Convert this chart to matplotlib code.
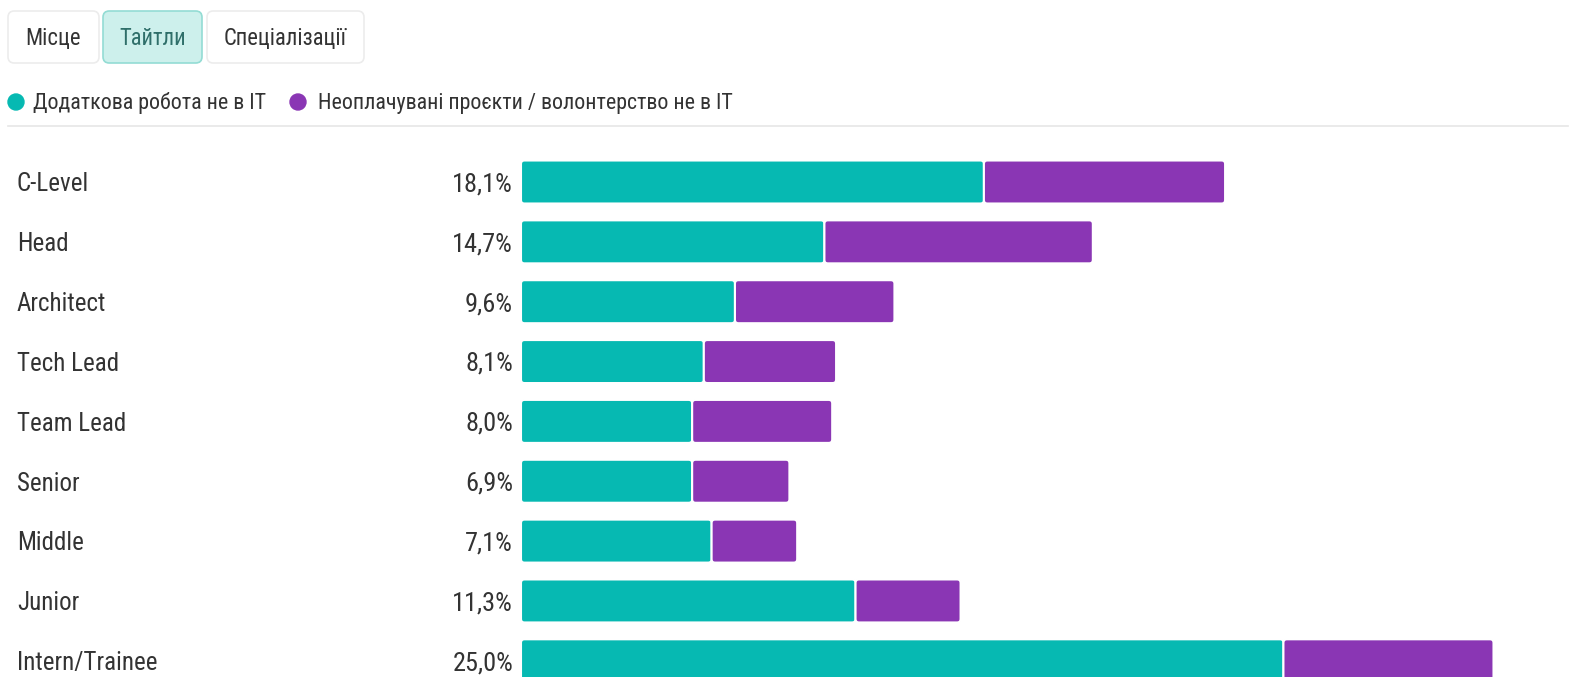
import matplotlib.pyplot as plt
from matplotlib.patches import FancyBboxPatch, Ellipse
from matplotlib.transforms import blended_transform_factory
from matplotlib import font_manager

# Data: share of respondents with side activities outside IT, by title (%)
titles = ["C-Level", "Head", "Architect", "Tech Lead", "Team Lead",
          "Senior", "Middle", "Junior", "Intern/Trainee"]
extra_job = [11.9, 7.8, 5.5, 4.7, 4.4, 4.4, 4.9, 8.6, 19.6]
volunteer = [6.2, 6.9, 4.1, 3.4, 3.6, 2.5, 2.2, 2.7, 5.4]

series_names = ["Додаткова робота не в IT",
                "Неоплачувані проєкти / волонтерство не в IT"]
tabs = ["Місце", "Тайтли", "Спеціалізації"]
active_tab = 1

TEAL = "#06b9b2"
PURPLE = "#8a36b4"
TEXT = "#333333"

names = {f.name for f in font_manager.fontManager.ttflist}
font = "Roboto Condensed" if "Roboto Condensed" in names else "Roboto"
plt.rcParams["font.family"] = [font, "DejaVu Sans"]

W, H = 1576, 677
fig = plt.figure(figsize=(W / 100, H / 100), dpi=100)


def px(x, y):
    """pixel (from top-left) to figure fraction"""
    return x / W, 1 - y / H


# tab buttons
tab_boxes = [(8, 99), (103, 202), (207, 364)]
for i, (label, (x0, x1)) in enumerate(zip(tabs, tab_boxes)):
    fx0, fy1 = px(x0, 63)
    fx1, fy0 = px(x1, 11)
    on = i == active_tab
    box = FancyBboxPatch((fx0, fy1), fx1 - fx0, fy0 - fy1,
                         boxstyle="round,pad=0,rounding_size=0.004",
                         mutation_aspect=W / H,
                         facecolor="#cdf0ec" if on else "white",
                         edgecolor="#93dcd4" if on else "#ececec",
                         linewidth=1.2, transform=fig.transFigure)
    fig.add_artist(box)
    fig.text((fx0 + fx1) / 2, (fy0 + fy1) / 2 - 0.002, label, ha="center", va="center",
             fontsize=16.3, color="#2f6f6a" if on else TEXT)

# legend
for (cx, tx), name, col in zip([(16, 33), (298, 318)], series_names, [TEAL, PURPLE]):
    fig.add_artist(Ellipse(px(cx, 102), 16 / W, 16 / H, color=col,
                           transform=fig.transFigure))
    fig.text(*px(tx, 103), name, ha="left", va="center", fontsize=15.8, color=TEXT)

fig.add_artist(plt.Line2D([8 / W, 1568 / W], [1 - 126 / H] * 2,
                          color="#e6e6e6", linewidth=1.2, transform=fig.transFigure))

# bar area: starts at x=521px, 38.9 px per percent, rows 59.85 px apart
x0_px, px_per_pct = 521, 38.9
row0_px, row_step = 182, 59.85
ax = fig.add_axes([x0_px / W, 0, 1 - x0_px / W, 1])
ax.set_xlim(0, (W - x0_px) / px_per_pct)
ax.set_ylim((H - row0_px) / row_step, -row0_px / row_step)
ax.axis("off")

bar_h = 43 / row_step
r = 3.5 / px_per_pct
aspect = px_per_pct / row_step
for i, (a, b) in enumerate(zip(extra_job, volunteer)):
    for left, width, col in [(0, a, TEAL), (a, b, PURPLE)]:
        ax.add_patch(FancyBboxPatch((left, i - bar_h / 2), width, bar_h,
                                    boxstyle=f"round,pad=0,rounding_size={r}",
                                    mutation_aspect=aspect,
                                    facecolor=col, edgecolor="white", linewidth=1.5))

lab_tr = blended_transform_factory(fig.transFigure, ax.transData)
for i, (t, a, b) in enumerate(zip(titles, extra_job, volunteer)):
    fig.text(17 / W, i + 0.04, t, transform=lab_tr, ha="left", va="center",
             fontsize=18, color=TEXT)
    total = f"{a + b:.1f}%".replace(".", ",")
    fig.text(513 / W, i + 0.04, total, transform=lab_tr, ha="right", va="center",
             fontsize=19, color=TEXT)

fig.savefig("out.png", dpi=100)
